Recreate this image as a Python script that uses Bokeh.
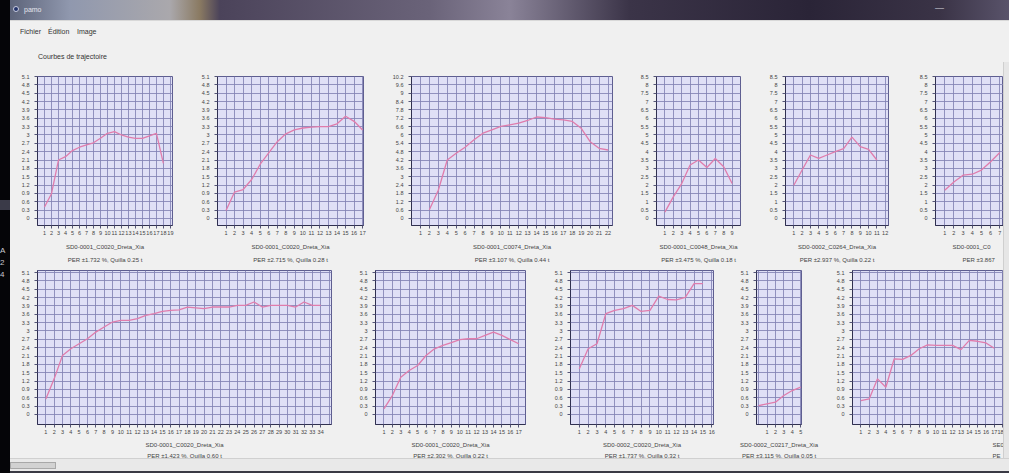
from bokeh.plotting import figure
from bokeh.layouts import row, column
from bokeh.models import Div, FixedTicker, Title, Range1d
from bokeh.embed import file_html
from bokeh.resources import INLINE

FONT = "Liberation Sans"

# ---- curve data (one list per panel) ----
c1_vals = [0.41, 0.89, 2.10, 2.22, 2.44, 2.56, 2.64, 2.72, 2.88, 3.06, 3.12, 3.00, 2.92, 2.88, 2.88, 2.97, 3.06, 1.98]
c2_vals = [0.29, 0.95, 1.04, 1.40, 1.95, 2.36, 2.76, 3.04, 3.18, 3.25, 3.28, 3.30, 3.30, 3.40, 3.67, 3.49, 3.18]
c3_vals = [0.63, 2.03, 4.20, 4.68, 5.12, 5.65, 6.13, 6.37, 6.61, 6.73, 6.85, 7.04, 7.29, 7.24, 7.14, 7.09, 6.97, 6.48, 5.52, 5.04, 4.92]
c4_vals = [0.38, 1.29, 2.09, 3.20, 3.50, 3.05, 3.59, 3.10, 2.09]
c5_vals = [1.99, 2.90, 3.80, 3.60, 3.80, 4.00, 4.18, 4.87, 4.30, 4.14, 3.50]
c6_vals = [1.69, 2.19, 2.59, 2.65, 2.90, 3.40, 3.95]
c7_vals = [0.56, 1.28, 2.12, 2.36, 2.54, 2.72, 2.96, 3.14, 3.32, 3.38, 3.38, 3.44, 3.56, 3.62, 3.70, 3.74, 3.76,
           3.86, 3.83, 3.80, 3.86, 3.86, 3.86, 3.92, 3.92, 4.04, 3.86, 3.92, 3.92, 3.92, 3.86, 4.04, 3.92, 3.92]
c8_vals = [0.20, 0.68, 1.34, 1.58, 1.76, 2.12, 2.36, 2.48, 2.58, 2.69, 2.72, 2.72, 2.84, 2.96, 2.84, 2.69, 2.54]
c9_vals = [1.64, 2.36, 2.54, 3.62, 3.74, 3.80, 3.92, 3.70, 3.74, 4.25, 4.13, 4.12, 4.21, 4.70, 4.70]
c10_vals = [0.32, 0.38, 0.44, 0.68, 0.86, 0.98]
c11_vals = [0.50, 0.56, 1.28, 0.98, 2.00, 1.98, 2.12, 2.36, 2.50, 2.48, 2.48, 2.48, 2.33, 2.66, 2.63, 2.57, 2.38]

# first x index of each curve
x_starts = [1, 1, 2, 1, 1, 1, 1, 1, 1, 0, 1]
# y tick step of each panel (18 ticks: 0 .. 17 * step)
y_steps = [0.3, 0.3, 0.6, 0.5, 0.5, 0.5, 0.3, 0.3, 0.3, 0.3, 0.3]
# number of x tick labels
x_tick_counts = [19, 17, 22, 9, 12, 7, 34, 17, 16, 5, 18]

# captions; the two right-most panels run past the window edge, so only
# their visible start is written
names = [
    "SD0-0001_C0020_Dreta_Xia", "SD0-0001_C0020_Dreta_Xia", "SD0-0001_C0074_Dreta_Xia",
    "SD0-0001_C0048_Dreta_Xia", "SD0-0002_C0264_Dreta_Xia", "SD0-0001_C0",
    "SD0-0001_C0020_Dreta_Xia", "SD0-0001_C0020_Dreta_Xia", "SD0-0002_C0020_Dreta_Xia",
    "SD0-0002_C0217_Dreta_Xia", "SE0",
]
per_texts = [
    "PER ±1.732 %, Quilla 0.25 t", "PER ±2.715 %, Quilla 0.28 t", "PER ±3.107 %, Quilla 0.44 t",
    "PER ±3.475 %, Quilla 0.18 t", "PER ±2.937 %, Quilla 0.22 t", "PER ±3.867",
    "PER ±1.423 %, Quilla 0.60 t", "PER ±2.302 %, Quilla 0.22 t", "PER ±1.737 %, Quilla 0.32 t",
    "PER ±3.115 %, Quilla 0.05 t", "PE",
]
all_vals = [c1_vals, c2_vals, c3_vals, c4_vals, c5_vals, c6_vals,
            c7_vals, c8_vals, c9_vals, c10_vals, c11_vals]

# ---- layout geometry: (x range, canvas width, left border, right border, caption offsets) ----
geom = [
    ((0, 19.3), 185, 27, 23, None),
    ((0, 17.1), 190, 22, 22, None),
    ((0, 22.5), 247, 26, 20, None),
    ((0, 10.0), 128, 24, 20, None),
    ((0, 12.4), 148, 25, 20, None),
    ((0, 7.4), 95, 27, 0, (17, 27)),
    ((0, 35.3), 343, 27, 22, None),
    ((0, 17.8), 195, 22, 23, None),
    ((0, 16.2), 187, 22, 22, None),
    ((-0.25, 5.1), 91, 21, 25, None),
    ((0, 18.1), 177, 26, 0, (140, 140)),
]
# per row: canvas height, top border, bottom border, y range in steps, caption standoffs
row_geom = [(202, 14, 39, (-0.84, 17.0), (9, 1)), (194, 6, 34, (-1.2, 17.24), (6, 0))]

BG = "#f0f0f0"
PLOT_BG = "#dfdff6"
GRID = "#8282b4"
LINE = "#e07cac"
TXT = "#444444"


def make_panel(i, rg):
    vals = all_vals[i]
    (xr, width, bl, br, cap) = geom[i]
    (height, bt, bb, ysteps, standoffs) = rg
    step = y_steps[i]
    p = figure(width=width, height=height, output_backend="svg", toolbar_location=None,
               x_range=Range1d(*xr), y_range=Range1d(ysteps[0] * step, ysteps[1] * step),
               min_border_left=bl, min_border_right=br, min_border_top=bt, min_border_bottom=bb,
               background_fill_color=PLOT_BG, border_fill_color=BG,
               outline_line_color="#5e5e90", margin=0)
    xs = list(range(x_starts[i], x_starts[i] + len(vals)))
    p.line(xs, vals, line_color=LINE, line_width=1.3)

    yt = [round(k * step, 2) for k in range(18)]
    xt = list(range(1, x_tick_counts[i] + 1))
    p.yaxis.ticker = FixedTicker(ticks=yt)
    p.yaxis.major_label_overrides = {t: f"{t:g}" for t in yt}
    p.xaxis.ticker = FixedTicker(ticks=xt)
    p.xgrid.ticker = FixedTicker(ticks=list(range(0, int(xr[1]) + 1)))
    p.ygrid.ticker = FixedTicker(ticks=yt)
    for g in (p.xgrid, p.ygrid):
        g.grid_line_color = GRID
        g.grid_line_alpha = 0.85
        g.grid_line_width = 1
    for ax in (p.xaxis, p.yaxis):
        ax.axis_line_color = "#303050"
        ax.major_tick_line_color = "#555577"
        ax.minor_tick_line_color = None
        ax.major_tick_in = 0
        ax.major_tick_out = 3
        ax.major_label_text_font = FONT
        ax.major_label_text_font_size = "5.5px"
        ax.major_label_text_color = TXT
    p.yaxis.major_label_standoff = 5
    p.xaxis.major_label_standoff = 2

    if cap is None:
        t1 = Title(text=names[i], align="center")
        t2 = Title(text=per_texts[i], align="center")
    else:
        t1 = Title(text=names[i], align="left", offset=cap[0])
        t2 = Title(text=per_texts[i], align="left", offset=cap[1])
    for t, so in ((t1, standoffs[0]), (t2, standoffs[1])):
        t.text_font = FONT
        t.text_font_size = "6px"
        t.text_font_style = "normal"
        t.text_color = TXT
        t.standoff = so
        p.add_layout(t, "below")
    return p


row1 = row(*[make_panel(i, row_geom[0]) for i in range(6)], margin=0, spacing=0)
row2 = row(*[make_panel(i, row_geom[1]) for i in range(6, 11)], margin=0, spacing=0)

title_bar = Div(width=999, height=20, margin=0, text=(
    "<div style=\"position:relative;width:999px;height:20px;"
    "background:linear-gradient(90deg,#5d647a 0%,#9098ae 6%,#aaa8ac 16%,#8a7a62 19%,#4b435a 21%,"
    "#6a6379 42%,#8a8398 50%,#3b3448 62%,#2a2437 80%,#3a3346 93%,#59536a 100%);"
    f"font-family:'{FONT}';font-size:7px;color:#e6e6ee;\">"
    "<div style=\"position:absolute;left:3px;top:6px;width:6px;height:6px;border-radius:50%;"
    "background:#23336a;border:1px solid #c8cce0\"></div>"
    "<span style=\"position:absolute;left:14px;top:5px;\">pamo</span>"
    "<span style=\"position:absolute;left:925px;top:2px;font-size:9px;color:#d8d8e0;\">&#8212;</span>"
    "</div>"))

menu_bar = Div(width=999, height=20, margin=0, text=(
    f"<div style=\"width:999px;height:20px;background:{BG};border-top:1px solid #d8d8d8;"
    f"font-family:'{FONT}';font-size:7px;color:#333;position:relative;\">"
    "<span style=\"position:absolute;left:10px;top:6px;\">Fichier</span>"
    "<span style=\"position:absolute;left:38px;top:6px;\">Édition</span>"
    "<span style=\"position:absolute;left:67px;top:6px;\">Image</span>"
    "</div>"))

sub_bar = Div(width=999, height=22, margin=0, text=(
    f"<div style=\"width:999px;height:22px;background:{BG};position:relative;"
    f"font-family:'{FONT}';font-size:7px;color:#333;\">"
    "<span style=\"position:absolute;left:28px;top:12px;\">Courbes de trajectoire</span>"
    "</div>"))

vscroll = Div(width=6, height=396, margin=0, text=(
    "<div style=\"width:6px;height:396px;background:#e6e6e6;border-left:1px solid #cfcfcf;\"></div>"))

hscroll = Div(width=999, height=15, margin=0, text=(
    "<div style=\"position:relative;width:999px;height:15px;background:#e9e9e9;"
    "border-top:1px solid #d0d0d0;\">"
    "<div style=\"position:absolute;left:0px;top:3px;width:46px;height:7px;background:#d2d2d2;"
    "border:1px solid #a8a8a8;\"></div>"
    "<div style=\"position:absolute;left:0px;top:12px;width:999px;height:3px;background:#3a3a44;\"></div>"
    "</div>"))

left_strip = Div(width=10, height=473, margin=0, text=(
    "<div style=\"position:relative;width:10px;height:473px;background:#050508;overflow:hidden;"
    f"font-family:'{FONT}';font-size:8px;color:#c8c8d0;\">"
    "<div style=\"position:absolute;left:0;top:200px;width:10px;height:10px;background:#3a3a48;\"></div>"
    "<span style=\"position:absolute;left:0;top:245px;\">A</span>"
    "<span style=\"position:absolute;left:0;top:257px;\">2</span>"
    "<span style=\"position:absolute;left:0;top:269px;\">4</span>"
    "</div>"))

charts = row(column(row1, row2, margin=0, spacing=0), vscroll, margin=0, spacing=0)
main = column(title_bar, menu_bar, sub_bar, charts, hscroll, margin=0, spacing=0)
page = row(left_strip, main, margin=0, spacing=0, styles={"background": BG})

open("out.html", "w").write(file_html(page, INLINE))
